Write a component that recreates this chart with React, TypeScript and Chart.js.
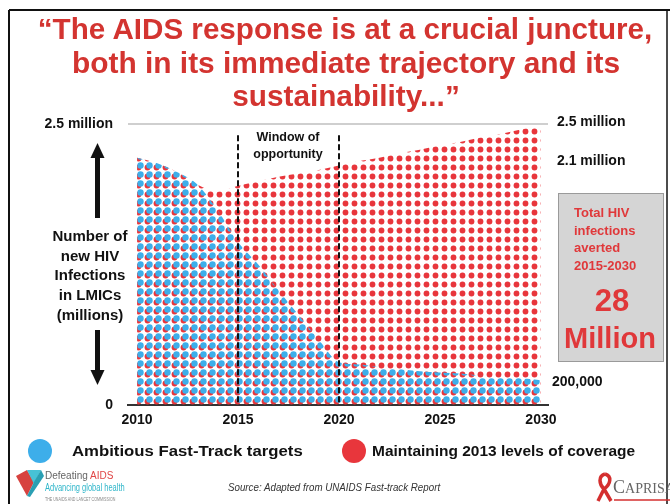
import React, { useEffect, useLayoutEffect, useRef } from "react";
import { Chart, registerables } from "chart.js";

Chart.register(...registerables);

// ---- data ----
const years = [2010, 2011, 2012, 2013, 2014, 2015, 2016, 2017, 2018, 2019, 2020, 2021, 2022, 2023, 2024, 2025, 2026, 2027, 2028, 2029, 2030];
const fastTrackTargets = [2.2, 2.15, 2.07, 1.96, 1.73, 1.45, 1.25, 1.02, 0.8, 0.58, 0.38, 0.36, 0.34, 0.32, 0.3, 0.29, 0.28, 0.26, 0.25, 0.24, 0.22];
const maintain2013Coverage = [2.2, 2.15, 2.07, 1.96, 1.9, 1.95, 1.99, 2.03, 2.06, 2.09, 2.13, 2.17, 2.2, 2.24, 2.27, 2.31, 2.34, 2.38, 2.41, 2.45, 2.49];
const seriesNames = ["Ambitious Fast-Track targets", "Maintaining 2013 levels of coverage"];
const xTickYears = [2010, 2015, 2020, 2025, 2030];
const yTickValues = [0, 2.5];
const yTickLabels = ["0", "2.5 million"];
const windowYears = [2015, 2020];
const rightLabels = ["2.5 million", "2.1 million", "200,000"];
const titleLines = ["\u201CThe AIDS response is at a crucial juncture,", "both in its immediate trajectory and its", "sustainability...\u201D"];
const yAxisTitle = ["Number of", "new HIV", "Infections", "in LMICs", "(millions)"];
const windowText = ["Window of", "opportunity"];
const boxLines = ["Total HIV", "infections", "averted", "2015-2030"];
const boxBig = ["28", "Million"];

const FONT = "'Liberation Sans', Arial, Helvetica, sans-serif";
const RED_DOT = "#e8363c";
const BLUE_DOT = "#3daeea";
const TITLE_RED = "#d33430";

function makeDots(ctx: CanvasRenderingContext2D, color: string, cx: number, cy: number, r: number) {
  const c = document.createElement("canvas");
  c.width = 9;
  c.height = 9;
  const g = c.getContext("2d")!;
  g.fillStyle = color;
  for (const dx of [-9, 0, 9]) {
    for (const dy of [-9, 0, 9]) {
      g.beginPath();
      g.arc(cx + dx, cy + dy, r, 0, Math.PI * 2);
      g.fill();
    }
  }
  return ctx.createPattern(c, "repeat")!;
}

type TP = {
  text: React.ReactNode;
  x: number;
  y: number;
  size: number;
  w?: number;
  align?: "left" | "center";
  color?: string;
  weight?: number | string;
  italic?: boolean;
  family?: string;
};

function T({ text, x, y, size, w, align = "left", color = "#111", weight = 700, italic, family }: TP) {
  const ref = useRef<HTMLDivElement>(null);
  useLayoutEffect(() => {
    const el = ref.current;
    if (!el) return;
    const natural = el.offsetWidth;
    const s = w && natural ? w / natural : 1;
    el.style.transform = align === "center" ? `translateX(-50%) scaleX(${s})` : `scaleX(${s})`;
  }, [w, align]);
  const lh = Math.round(size * 1.2);
  return (
    <div
      ref={ref}
      style={{
        position: "absolute",
        left: x,
        top: y - lh / 2,
        fontSize: size,
        lineHeight: lh + "px",
        whiteSpace: "nowrap",
        fontWeight: weight as any,
        fontStyle: italic ? "italic" : "normal",
        color,
        fontFamily: family ?? FONT,
        transformOrigin: align === "center" ? "50% 50%" : "0 50%",
      }}
    >
      {text}
    </div>
  );
}

const windowPlugin = {
  id: "windowLines",
  afterDatasetsDraw(chart: any) {
    const { ctx, scales } = chart;
    const x = scales.x;
    const y = scales.y;
    ctx.save();
    ctx.strokeStyle = "#111";
    ctx.lineWidth = 2;
    ctx.setLineDash([6, 3]);
    windowYears.forEach((yr) => {
      const px = Math.round(x.getPixelForValue(yr));
      ctx.beginPath();
      ctx.moveTo(px, y.getPixelForValue(2.4));
      ctx.lineTo(px, y.getPixelForValue(0));
      ctx.stroke();
    });
    ctx.restore();
  },
};

export default function App() {
  const canvasRef = useRef<HTMLCanvasElement>(null);

  useEffect(() => {
    const canvas = canvasRef.current!;
    const ctx = canvas.getContext("2d")!;
    const redPat = makeDots(ctx, RED_DOT, 3.5, 5.5, 2.9);
    const bluePat = makeDots(ctx, BLUE_DOT, 5.5, 3.5, 3.2);
    Chart.defaults.font.family = FONT;
    const chart = new Chart(canvas, {
      type: "line",
      data: {
        datasets: [
          {
            label: seriesNames[0],
            data: years.map((yr, i) => ({ x: yr, y: fastTrackTargets[i] })),
            backgroundColor: bluePat as any,
            borderColor: "rgba(0,0,0,0)",
            borderWidth: 0,
            fill: "origin",
            pointRadius: 0,
            cubicInterpolationMode: "monotone",
          },
          {
            label: seriesNames[1],
            data: years.map((yr, i) => ({ x: yr, y: maintain2013Coverage[i] })),
            backgroundColor: redPat as any,
            borderColor: "rgba(0,0,0,0)",
            borderWidth: 0,
            fill: "origin",
            pointRadius: 0,
            cubicInterpolationMode: "monotone",
          },
        ],
      },
      options: {
        animation: false,
        responsive: false,
        devicePixelRatio: 1,
        layout: { padding: { left: 0, right: 122, top: 124, bottom: 0 } },
        plugins: { legend: { display: false }, tooltip: { enabled: false } },
        scales: {
          x: {
            type: "linear",
            min: 2009.55,
            max: 2030.35,
            afterBuildTicks: (s: any) => {
              s.ticks = xTickYears.map((v) => ({ value: v }));
            },
            afterFit: (s: any) => {
              s.height = 99;
            },
            ticks: {
              font: { size: 14, weight: "bold", family: FONT },
              color: "#111",
              padding: 7,
              maxRotation: 0,
              autoSkip: false,
              callback: (v: any) => String(v),
            },
            grid: { display: false, drawTicks: false },
            border: { display: true, color: "#333", width: 2 },
          },
          y: {
            type: "linear",
            min: 0,
            max: 2.5,
            afterBuildTicks: (s: any) => {
              s.ticks = yTickValues.map((v) => ({ value: v }));
            },
            afterFit: (s: any) => {
              s.width = 128;
            },
            ticks: {
              font: { size: 14, weight: "bold", family: FONT },
              color: "#111",
              padding: 15,
              callback: (v: any) => yTickLabels[yTickValues.indexOf(Number(v))] ?? "",
            },
            grid: {
              drawTicks: false,
              lineWidth: 2,
              color: (c: any) => (c.tick && c.tick.value === 2.5 ? "#cfcfcf" : "rgba(0,0,0,0)"),
            },
            border: { display: false },
          },
        },
      },
      plugins: [windowPlugin],
    });
    return () => chart.destroy();
  }, []);

  return (
    <div style={{ position: "absolute", left: 0, top: 0, width: 670, height: 504, overflow: "hidden", background: "#fff" }}>
      <canvas ref={canvasRef} width={670} height={504} style={{ position: "absolute", left: 0, top: 0, display: "block" }} />
      <svg width={670} height={504} style={{ position: "absolute", left: 0, top: 0, pointerEvents: "none" }}>
        {/* slide border */}
        <line x1={9} y1={10} x2={670} y2={10} stroke="#111" strokeWidth={2} />
        <line x1={9} y1={10} x2={9} y2={504} stroke="#111" strokeWidth={2} />
        <line x1={667} y1={10} x2={667} y2={504} stroke="#111" strokeWidth={1.5} />
        {/* arrows */}
        <rect x={95} y={156} width={5} height={62} fill="#111" />
        <polygon points="97.5,143 90.5,158 104.5,158" fill="#111" />
        <rect x={95} y={330} width={5} height={42} fill="#111" />
        <polygon points="90.5,370 104.5,370 97.5,385" fill="#111" />
        {/* grey box */}
        <rect x={558.5} y={193.5} width={105} height={168} fill="#d5d5d5" stroke="#9a9a9a" strokeWidth={1} />
        {/* legend markers */}
        <circle cx={40} cy={451} r={12} fill={BLUE_DOT} />
        <circle cx={354} cy={451} r={12} fill={RED_DOT} />
        {/* Defeating AIDS logo */}
        <polygon points="16,476 27,470 34,482 27,496" fill="#d7423f" />
        <polygon points="27,470 41,470 34,484" fill="#47c2d6" />
        <polygon points="34,482 41,470 44,476 30,497 27,496" fill="#2a9fb3" />
        {/* CAPRISA ribbon */}
        <path d="M605 474 C598 476 599 484 604 489 L598 501" stroke="#d42f2f" strokeWidth={3.5} fill="none" />
        <path d="M605 474 C612 476 611 484 604 489 L611 501" stroke="#d42f2f" strokeWidth={3.5} fill="none" />
        <line x1={614} y1={500} x2={670} y2={500} stroke="#d42f2f" strokeWidth={1.5} />
      </svg>

      {/* title */}
      <T text={titleLines[0]} x={345} y={29} size={30} w={614} align="center" color={TITLE_RED} />
      <T text={titleLines[1]} x={346} y={63} size={30} w={548} align="center" color={TITLE_RED} />
      <T text={titleLines[2]} x={346} y={96} size={30} w={228} align="center" color={TITLE_RED} />

      {/* y axis title */}
      {yAxisTitle.map((s, i) => (
        <T key={s} text={s} x={90} y={236 + i * 19.7} size={15} align="center" color="#111" />
      ))}

      {/* window of opportunity */}
      <T text={windowText[0]} x={288} y={137} size={12.5} align="center" color="#111" />
      <T text={windowText[1]} x={288} y={154} size={12.5} align="center" color="#111" />

      {/* right labels */}
      <T text={rightLabels[0]} x={557} y={121} size={14} color="#111" />
      <T text={rightLabels[1]} x={557} y={160} size={14} color="#111" />
      <T text={rightLabels[2]} x={552} y={381} size={14} color="#111" />

      {/* grey box text */}
      {boxLines.map((s, i) => (
        <T key={s} text={s} x={574} y={213 + i * 17.7} size={13} color="#e0383a" />
      ))}
      <T text={boxBig[0]} x={612} y={300} size={31} align="center" color="#e0383a" />
      <T text={boxBig[1]} x={610} y={338} size={29} align="center" color="#e0383a" />

      {/* legend */}
      <T text={seriesNames[0]} x={72} y={451} size={15} w={231} color="#111" />
      <T text={seriesNames[1]} x={372} y={451} size={15} w={263} color="#111" />

      {/* footer */}
      <T
        text={
          <span>
            <span style={{ color: "#666" }}>Defeating </span>
            <span style={{ color: "#e04545" }}>AIDS</span>
          </span>
        }
        x={45}
        y={476}
        size={10}
        weight={400}
      />
      <T text="Advancing global health" x={45} y={487} size={10.5} weight={400} color="#2fb6ca" w={80} />
      <T text="THE UNAIDS AND LANCET COMMISSION" x={45} y={499} size={4.5} weight={400} color="#888" w={70} />
      <T text="Source: Adapted from UNAIDS Fast-track Report" x={228} y={487} size={11.5} weight={400} italic color="#333" w={212} />
      <T
        text={
          <span>
            C<span style={{ fontSize: 14 }}>APRISA</span>
          </span>
        }
        x={613}
        y={487}
        size={18}
        weight={400}
        color="#666"
        family="'Liberation Serif', 'DejaVu Serif', serif"
      />
    </div>
  );
}
